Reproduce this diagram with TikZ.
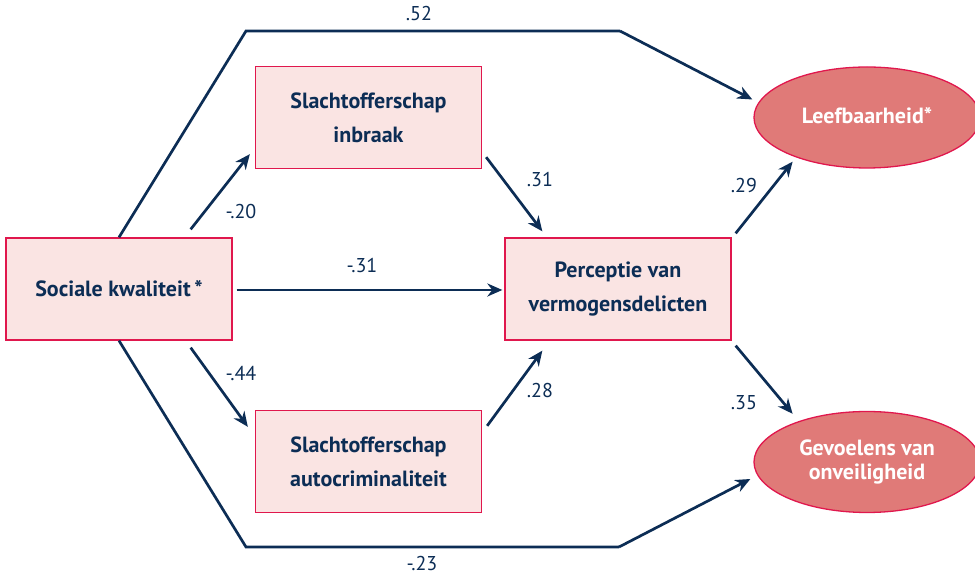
\documentclass[tikz,border=0pt]{standalone}
\usepackage{fontspec}
\setmainfont{PT Sans}
\usepackage{tikz}
\usetikzlibrary{calc, shapes, arrows.meta}
\usepackage{xcolor}
\definecolor{navy}{HTML}{0C2D55}
\definecolor{rand}{HTML}{E0174D}
\definecolor{roze}{HTML}{FAE4E3}
\definecolor{zalm}{HTML}{E07A78}

\begin{document}
\begin{tikzpicture}[x=1pt,y=1pt,
			box/.style={draw=rand, fill=roze, line width=1.3pt, minimum width=226pt, minimum height=102pt, inner sep=0pt, align=center, text=navy, font=\fontsize{22}{34}\selectfont\bfseries},
			uitkomst/.style={ellipse, draw=rand, fill=zalm, line width=1.3pt, minimum width=226pt, minimum height=101pt, inner sep=0pt, align=center, text=white, font=\fontsize{22}{24}\selectfont\bfseries},
			lijn/.style={draw=navy, line width=2.7pt},
			pijl/.style={lijn, -{Stealth[length=15pt,width=13pt]}},
			getal/.style={text=navy, font=\fontsize{20}{22}\selectfont}]
			\useasboundingbox (0,0) rectangle (975,575);
			\node [box] (sociaal) at (119,286) {Sociale kwaliteit\,*};
			\node [box] (inbraak) at (368.5,457.5) {Slachtofferschap\\inbraak};
			\node [box] (auto) at (368.5,113.5) {Slachtofferschap\\autocriminaliteit};
			\node [box] (perceptie) at (618,286) {Perceptie van\\vermogensdelicten};
			\node [uitkomst] (leef) at (867,457.5) {\raisebox{4pt}{Leefbaarheid*}};
			\node [uitkomst] (onveilig) at (867,113) {Gevoelens van\\onveiligheid};
			\coordinate (boven1) at (246,544);
			\coordinate (boven2) at (620,544);
			\coordinate (onder1) at (246,28);
			\coordinate (onder2) at (619,28);
			\draw [lijn] (sociaal.north) -- (boven1) -- (boven2);
			\draw [pijl] (boven2) -- ($(leef.west)+(-1,18)$);
			\draw [lijn] (sociaal.south) -- (onder1) -- (onder2);
			\draw [pijl] (onder2) -- ($(onveilig.west)+(-3,-17)$);
			\draw [pijl] ($(sociaal.north east)+(-42,8)$) -- ($(inbraak.south west)+(-5,15)$);
			\draw [pijl] ($(sociaal.east)+(4,-1)$) -- ($(perceptie.west)+(-2,-1)$);
			\draw [pijl] ($(sociaal.south east)+(-42,-7)$) -- ($(auto.north west)+(-7,-17)$);
			\draw [pijl] ($(inbraak.south east)+(4,12)$) -- ($(perceptie.north west)+(38,6)$);
			\draw [pijl] ($(auto.north east)+(5,-16)$) -- ($(perceptie.south west)+(38,-10)$);
			\draw [pijl] ($(perceptie.north east)+(4,4)$) -- ($(leef.south west)+(6,-8)$);
			\draw [pijl] ($(perceptie.south east)+(4,-5)$) -- ($(onveilig.north west)+(6,12)$);
			\node [getal] (g52) at (419,561) {.52};
			\node [getal] (g20) at (241,363) {-.20};
			\node [getal] (g31a) at (362,309) {-.31};
			\node [getal] (g44) at (241,201) {-.44};
			\node [getal] (g31b) at (540,395) {.31};
			\node [getal] (g28) at (540,184) {.28};
			\node [getal] (g29) at (744,389) {.29};
			\node [getal] (g35) at (744,172) {.35};
			\node [getal] (g23) at (422,11) {-.23};
		\end{tikzpicture}
\end{document}
